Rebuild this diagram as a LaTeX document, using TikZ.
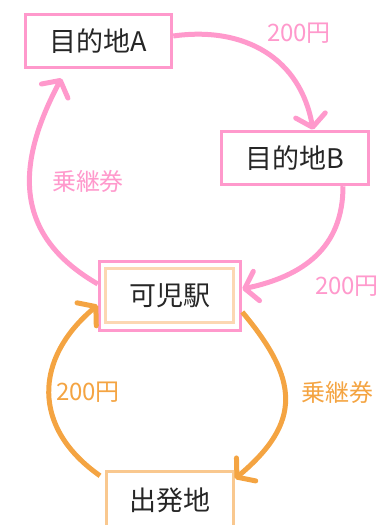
\documentclass[tikz,border=0pt]{standalone}
\usepackage{fontspec}
\setmainfont{Noto Sans CJK JP}
\usetikzlibrary{arrows.meta}

\definecolor{routepink}{HTML}{FF99CC}
\definecolor{routeorange}{HTML}{F4A442}
\definecolor{lightpeach}{HTML}{FCD7B2}
\definecolor{startpeach}{HTML}{F9C88F}

\tikzset{
  placebox/.style={draw, line width=3.5pt, fill=white, font=\fontsize{27}{30}\selectfont,
    text=black!85, inner sep=0pt},
  pinkarrow/.style={draw=routepink, line width=5pt,
    -{Straight Barb[length=12pt,width=30pt,round]}},
  orangearrow/.style={draw=routeorange, line width=5pt,
    -{Straight Barb[length=12pt,width=30pt,round]}},
  farelabel/.style={font=\fontsize{24}{26}\selectfont}
}

\begin{document}
\begin{tikzpicture}[x=1pt,y=-1pt]
       \clip (0,0) rectangle (381,525);
       % Places
       \node[placebox, draw=routepink, minimum width=146pt, minimum height=53pt] (destA) at (98.5,41) {目的地A};
       \node[placebox, draw=routepink, minimum width=147pt, minimum height=53pt] (destB) at (295,158) {目的地B};
       \node[placebox, draw=routepink, minimum width=141pt, minimum height=69pt] (kaniout) at (170,296) {};
       \node[placebox, draw=lightpeach, minimum width=128pt, minimum height=54pt] (kani) at (169.5,295.5) {可児駅};
       \node[placebox, draw=startpeach, minimum width=127pt, minimum height=57pt] (start) at (170,500) {出発地};

       % Pink round trip
       \draw[pinkarrow] ([yshift=5pt]destA.east) to[out=8, in=100, looseness=1.1] ([xshift=18pt]destB.north);
       \draw[pinkarrow] ([xshift=48pt]destB.south) to[out=-90, in=12, looseness=1.1] ([yshift=7pt]kaniout.east);
       \draw[pinkarrow] ([yshift=12pt]kaniout.west) to[out=150, in=-118, looseness=1.2] ([xshift=-37pt,yshift=-9pt]destA.south);

       % Orange round trip
       \draw[orangearrow] ([xshift=-70pt,yshift=-6pt]start.north) to[out=145, in=-140, looseness=1.25] ([yshift=-9pt]kaniout.west);
       \draw[orangearrow] ([yshift=-16pt]kaniout.east) to[out=-50, in=40, looseness=1.35] ([xshift=65pt,yshift=-9pt]start.north);

       % Fares
       \node[farelabel, text=routepink] (fareAB) at (299,33) {200円};
       \node[farelabel, text=routepink] (fareBK) at (347,286) {200円};
       \node[farelabel, text=routepink] (ticketKA) at (88,181) {乗継券};
       \node[farelabel, text=routeorange] (fareSK) at (88,392) {200円};
       \node[farelabel, text=routeorange] (ticketKS) at (337,392) {乗継券};
\end{tikzpicture}
\end{document}
